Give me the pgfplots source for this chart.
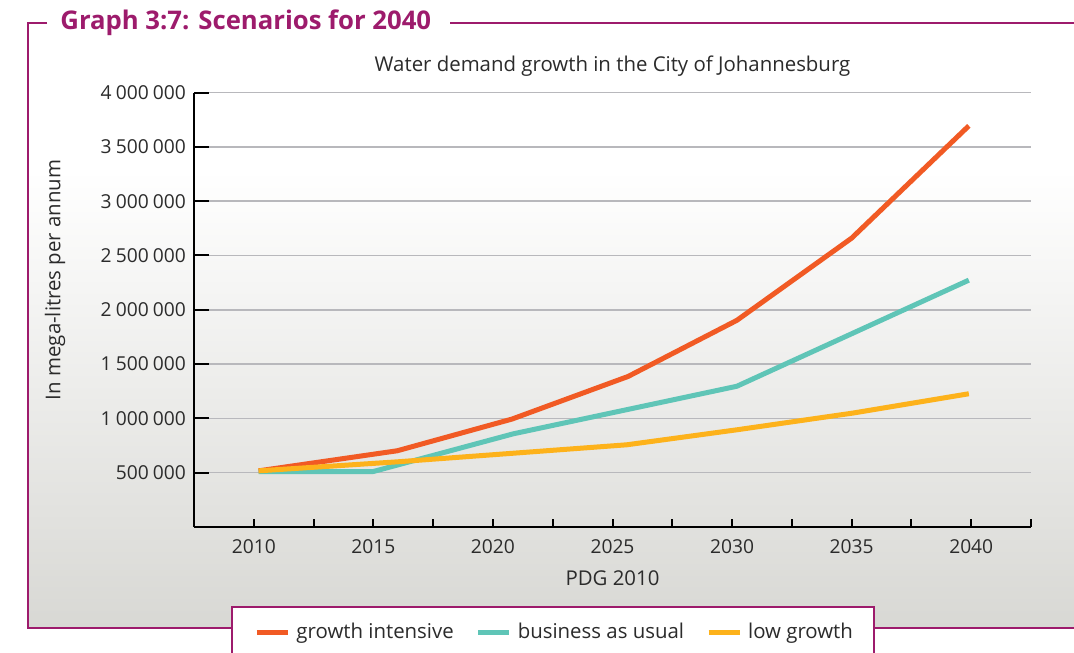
\documentclass[border=0pt]{standalone}
\usepackage{pgfplots}
\pgfplotsset{compat=1.18}
\usepackage{fontspec}
\setmainfont{Open Sans}
\definecolor{frame}{HTML}{9D1B6C}
\definecolor{cOrange}{HTML}{F15A24}
\definecolor{cTeal}{HTML}{5FC5B7}
\definecolor{cYellow}{HTML}{FDB21B}
\definecolor{gridgray}{HTML}{B8B8BC}
\definecolor{txt}{HTML}{2B2B2B}
\definecolor{bgbottom}{HTML}{D8D8D4}

\begin{document}
\begin{tikzpicture}
% picture is 1074 x 652 px, 1 px = 0.5pt
\clip (0pt,0pt) rectangle (537pt,326pt);
% frame background
\fill[white] (0pt,0pt) rectangle (537pt,326pt);
\fill[white] (14pt,241pt) rectangle (545pt,314.5pt);
\shade[bottom color=bgbottom, top color=white] (14pt,12pt) rectangle (545pt,241pt);
% frame lines
\draw[frame, line width=1pt] (23.5pt,314.5pt) -- (14pt,314.5pt) -- (14pt,12pt) -- (116pt,12pt);
\draw[frame, line width=1pt] (437pt,12pt) -- (545pt,12pt);
\draw[frame, line width=1pt] (225pt,314.5pt) -- (545pt,314.5pt);
\node[anchor=base west, inner sep=0pt, text=frame, font=\fontsize{12.85pt}{15pt}\selectfont\bfseries] at (30pt,311.2pt) {Graph 3:7: Scenarios for 2040};
% legend box
\draw[frame, line width=1pt, fill=white] (116pt,-5pt) rectangle (437pt,22.35pt);

\begin{axis}[
    at={(97pt,62.5pt)}, anchor=south west,
    scale only axis, width=418.5pt, height=217.2pt,
    xmin=2007.5, xmax=2042.5,
    ymin=0, ymax=4000000,
    axis x line*=bottom, axis y line*=left,
    axis line style={black, line width=1pt, -},
    tick align=inside,
    xtick={2012.5,2017.5,...,2042.5},
    xticklabels={},
    extra x ticks={2010,2015,...,2040},
    extra x tick labels={2010,2015,2020,2025,2030,2035,2040},
    extra x tick style={major tick length=0pt, xmajorgrids=false},
    xtick style={black, line width=1pt, /pgfplots/major tick length=4pt},
    ytick={500000,1000000,...,4000000},
    ytick style={black, line width=1pt, /pgfplots/major tick length=7.5pt},
    ymajorgrids,
    grid style={draw=gridgray, line width=0.8pt},
    scaled y ticks=false,
    /pgf/number format/.cd, fixed, 1000 sep={\hspace{0.22em}}, assume math mode=true,
    /pgfplots/.cd,
    ticklabel style={text=txt, font=\fontsize{9.6pt}{11pt}\selectfont},
    xticklabel style={yshift=-2.7pt},
    yticklabel style={xshift=-0.5pt},
    title={Water demand growth in the City of Johannesburg},
    title style={at={(0.5,1)}, anchor=base, yshift=4.3pt, text=txt, font=\fontsize{10.2pt}{12pt}\selectfont},
    xlabel={PDG 2010},
    xlabel style={at={(0.5,0)}, anchor=base, yshift=-29pt, text=txt, font=\fontsize{10.2pt}{12pt}\selectfont},
    ylabel={In mega-litres per annum},
    ylabel style={at={(axis description cs:-0.166,0.569)}, anchor=center, text=txt, font=\fontsize{10.2pt}{12pt}\selectfont},
    legend columns=3,
    legend style={at={(0.0718,-0.2418)}, anchor=west, draw=none, fill=none,
        inner sep=0pt, text=txt, font=\fontsize{10.2pt}{12pt}\selectfont,
        nodes={inner sep=0pt},
        /tikz/every odd column/.append style={column sep=3pt},
        /tikz/every even column/.append style={column sep=11pt}},
    legend image code/.code={\draw[line width=2.5pt] (0pt,0pt) -- (15.5pt,0pt);},
    every axis plot/.append style={line width=2.5pt, line join=round},
]
\addplot[cOrange] coordinates {
(2010.2,517000)(2016.0,702000)(2020.8,994000)(2025.65,1386000)(2030.2,1903000)(2035.0,2660000)(2039.9,3694000)
};
\addlegendentry{growth intensive}
\addplot[cTeal] coordinates {
(2010.2,511000)(2015.0,511000)(2020.85,858000)(2030.2,1296000)(2039.9,2273000)
};
\addlegendentry{business as usual}
\addplot[cYellow] coordinates {
(2010.2,517000)(2016.0,600000)(2025.6,757000)(2030.2,895000)(2035.05,1049000)(2039.9,1227000)
};
\addlegendentry{low growth}
\end{axis}
\end{tikzpicture}
\end{document}
